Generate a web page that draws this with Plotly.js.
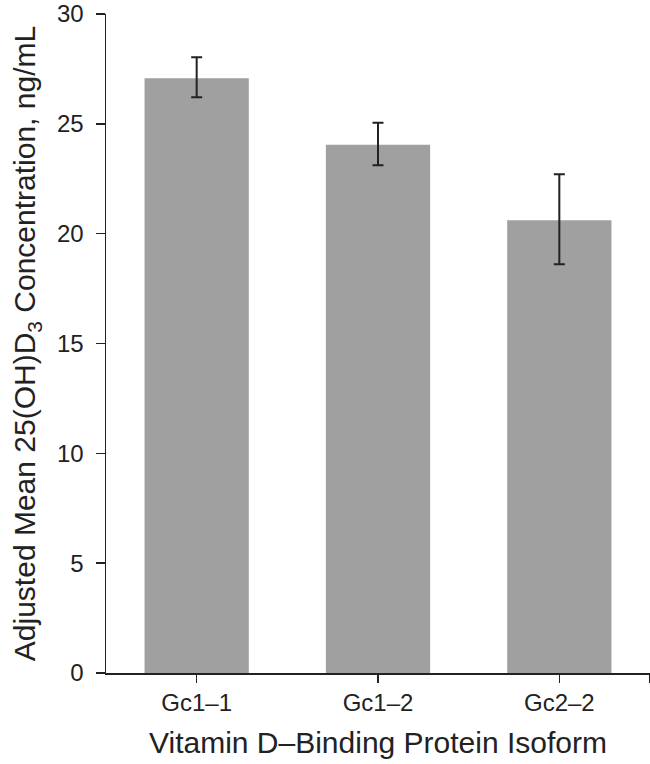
<!DOCTYPE html>
<html>
<head>
<meta charset="utf-8">
<script src="https://cdn.plot.ly/plotly-3.0.1.min.js"></script>
<style>html,body{margin:0;padding:0;background:#fff;}#chart{width:650px;height:764px;}</style>
</head>
<body>
<div id="chart"></div>
<script>
const categories = ["Gc1\u20131", "Gc1\u20132", "Gc2\u20132"];
const meanValues = [27.07, 24.05, 20.61];
const errPlus = [0.96, 1.00, 2.09];
const errMinus = [0.86, 0.94, 2.00];
const yTickVals = [0, 5, 10, 15, 20, 25, 30];
const xTitle = "Vitamin D\u2013Binding Protein Isoform";
const yTitle = "Adjusted Mean 25(OH)D<sub>3</sub> Concentration, ng/mL";

const xIdx = categories.map((c, i) => i);
const xTickVals = xIdx.concat([categories.length - 0.5]);
const xTickText = categories.concat([" "]);

const trace = {
  type: "bar",
  x: xIdx,
  y: meanValues,
  width: 0.575,
  marker: {color: "#a0a0a0", line: {width: 0}},
  error_y: {
    type: "data",
    symmetric: false,
    array: errPlus,
    arrayminus: errMinus,
    color: "#222222",
    thickness: 2,
    width: 5.5
  },
  hoverinfo: "skip"
};

const layout = {
  width: 650,
  height: 764,
  margin: {l: 106, r: 0, t: 14, b: 91, pad: 0},
  paper_bgcolor: "#ffffff",
  plot_bgcolor: "#ffffff",
  showlegend: false,
  font: {family: "Liberation Sans, Arial, sans-serif", color: "#222222", size: 24},
  xaxis: {
    type: "linear",
    range: [-0.5, categories.length - 0.5],
    tickvals: xTickVals,
    ticktext: xTickText,
    ticks: "outside",
    ticklen: 8,
    tickwidth: 1.5,
    tickcolor: "#222222",
    showline: true,
    linecolor: "#222222",
    linewidth: 1.5,
    showgrid: false,
    zeroline: false,
    tickfont: {size: 24},
    title: {text: xTitle, font: {size: 30}, standoff: 16}
  },
  yaxis: {
    range: [0, 30],
    tickvals: yTickVals,
    ticks: "outside",
    ticklen: 9,
    tickwidth: 1.5,
    tickcolor: "#222222",
    showline: true,
    linecolor: "#222222",
    linewidth: 1.5,
    showgrid: false,
    zeroline: false,
    tickfont: {size: 24},
    ticklabelstandoff: 7,
    title: {text: yTitle, font: {size: 30}, standoff: 12}
  }
};

Plotly.newPlot("chart", [trace], layout, {staticPlot: true, displayModeBar: false});
</script>
</body>
</html>
